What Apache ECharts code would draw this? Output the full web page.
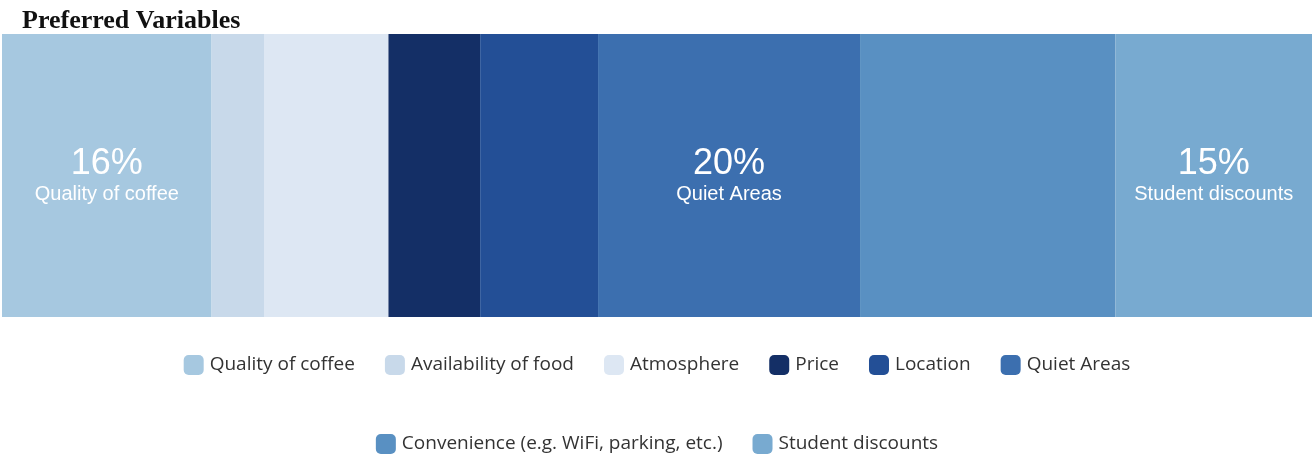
<!DOCTYPE html>
<html>
<head>
<meta charset="utf-8">
<script src="https://cdn.jsdelivr.net/npm/echarts@6/dist/echarts.min.js"></script>
<style>
  html, body { margin: 0; padding: 0; background: #ffffff; }
  #chart { width: 1314px; height: 455px; }
</style>
</head>
<body>
<div id="chart"></div>
<script>
// Share of respondents choosing each variable (%)
const categories = ['Preferred Variables'];
const seriesNames = [
  'Quality of coffee', 'Availability of food', 'Atmosphere', 'Price',
  'Location', 'Quiet Areas', 'Convenience (e.g. WiFi, parking, etc.)', 'Student discounts'
];
const seriesValues = [16, 4, 9.5, 7, 9, 20, 19.5, 15];
const labeledSeries = ['Quality of coffee', 'Quiet Areas', 'Student discounts'];
const legendRow1 = seriesNames.slice(0, 6);
const legendRow2 = seriesNames.slice(6);

const colors = ['#a6c8e0', '#c8d9ea', '#dde7f3', '#142f66', '#234f96', '#3c6faf', '#5990c2', '#78aad0'];

const chart = echarts.init(document.getElementById('chart'), null, { renderer: 'canvas' });

const series = seriesNames.map((name, i) => ({
  name: name,
  type: 'bar',
  stack: 'total',
  barWidth: '100%',
  itemStyle: { color: colors[i] },
  label: {
    show: labeledSeries.includes(name),
    position: 'inside',
    formatter: (p) => '{v|' + p.value + '%}\n{n|' + p.seriesName + '}',
    rich: {
      v: { fontSize: 36, color: '#ffffff', fontFamily: 'Liberation Sans, Arial, sans-serif', lineHeight: 38, align: 'center' },
      n: { fontSize: 20, color: '#ffffff', fontFamily: 'Liberation Sans, Arial, sans-serif', lineHeight: 22, align: 'center' }
    }
  },
  emphasis: { disabled: true },
  data: [seriesValues[i]]
}));

const legendCommon = {
  orient: 'horizontal',
  left: 'center',
  icon: 'roundRect',
  itemWidth: 20,
  itemHeight: 20,
  itemGap: 30,
  selectedMode: false,
  textStyle: { fontSize: 19, color: '#333333', fontFamily: 'Open Sans, sans-serif', padding: [0, 0, 0, 1] }
};

chart.setOption({
  animation: false,
  title: {
    text: 'Preferred Variables',
    left: 17,
    top: 3,
    textStyle: { fontFamily: 'Liberation Serif, Times New Roman, serif', fontWeight: 'bold', fontSize: 26, color: '#111111' }
  },
  grid: { left: 2, right: 2, top: 34, bottom: 138 },
  xAxis: { type: 'value', min: 0, max: 100, show: false },
  yAxis: { type: 'category', data: categories, show: false },
  legend: [
    Object.assign({}, legendCommon, { top: 350, data: legendRow1 }),
    Object.assign({}, legendCommon, { top: 429, data: legendRow2 })
  ],
  series: series
});
</script>
</body>
</html>
